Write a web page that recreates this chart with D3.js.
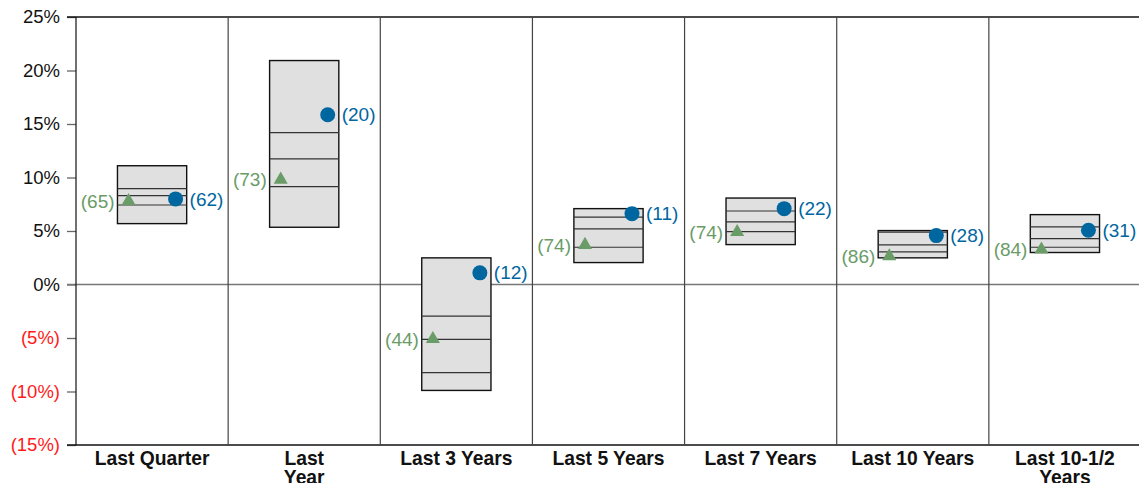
<!DOCTYPE html>
<html>
<head>
<meta charset="utf-8">
<script src="https://cdn.jsdelivr.net/npm/d3@7"></script>
<style>
  body { margin: 0; background: #fff; }
  svg { display: block; font-family: "Liberation Sans", Arial, sans-serif; }
</style>
</head>
<body>
<div id="chart"></div>
<script>
// periods (use \n for a manual line break)
var categories = ['Last Quarter', 'Last\nYear', 'Last 3 Years', 'Last 5 Years', 'Last 7 Years', 'Last 10 Years', 'Last 10-1/2\nYears'];

// peer group box: top, upper line, middle line, lower line, bottom (%)
var boxTop    = [11.1, 20.93,  2.49, 7.09, 8.08, 5.04, 6.53];
var boxUpper  = [8.96, 14.2,  -2.96, 6.3,  6.87, 4.9,  5.38];
var boxMid    = [8.3,  11.75, -5.13, 5.2,  5.85, 3.7,  4.29];
var boxLower  = [7.43,  9.14, -8.24, 3.48, 4.94, 3.05, 3.48];
var boxBottom = [5.69,  5.35, -9.9,  2.05, 3.73, 2.49, 2.99];

// portfolio (blue circle) and index (green triangle) returns, with their ranks
var circleVals  = [8.0, 15.86, 1.09, 6.62, 7.09, 4.57, 5.07];
var circleRanks = [62, 20, 12, 11, 22, 28, 31];
var triVals     = [7.8, 9.8, -5.1, 3.7, 4.9, 2.64, 3.27];
var triRanks    = [65, 73, 44, 74, 74, 86, 84];

var yTicks = [-15, -10, -5, 0, 5, 10, 15, 20, 25];

(function(){

var width = 1139, height = 483;
var plotLeft = 76, plotRight = 1141, plotTop = 17, plotBottom = 445;
var blue = '#00669f', green = '#6a9c68';

var svg = d3.select('#chart').append('svg')
	.attr('width', width)
	.attr('height', height);

var x = d3.scaleBand().domain(d3.range(categories.length)).range([plotLeft, plotRight]).padding(0);
var y = d3.scaleLinear().domain([-15, 25]).range([plotBottom, plotTop]);

// y axis ticks and labels
var yAxis = svg.append('g')
	.attr('transform', 'translate(' + plotLeft + ',0)')
	.call(d3.axisLeft(y).tickValues(yTicks).tickSize(9).tickPadding(7)
		.tickFormat(function(d) { return d < 0 ? '(' + (-d) + '%)' : d + '%'; }));
yAxis.select('.domain').remove();
yAxis.selectAll('.tick line').attr('stroke', '#666').attr('stroke-width', 1.3);
yAxis.selectAll('.tick text')
	.attr('font-size', 18.5)
	.attr('font-family', '"Liberation Sans", Arial, sans-serif')
	.attr('fill', function(d) { return d < 0 ? '#ff1a1a' : '#111'; });

// top and bottom frame lines
svg.append('line').attr('x1', plotLeft - 9).attr('x2', plotRight).attr('y1', y(25)).attr('y2', y(25))
	.attr('stroke', '#111').attr('stroke-width', 1.3);
svg.append('line').attr('x1', plotLeft - 9).attr('x2', plotRight).attr('y1', y(-15)).attr('y2', y(-15))
	.attr('stroke', '#111').attr('stroke-width', 1.3);

// zero line
svg.append('line').attr('x1', plotLeft - 9).attr('x2', plotRight).attr('y1', y(0)).attr('y2', y(0))
	.attr('stroke', '#777').attr('stroke-width', 1.5);

// column dividers
svg.selectAll('line.divider').data(d3.range(categories.length)).enter()
	.append('line')
	.attr('class', 'divider')
	.attr('x1', function(i) { return x(i); })
	.attr('x2', function(i) { return x(i); })
	.attr('y1', y(25))
	.attr('y2', y(-15))
	.attr('stroke', function(i) { return i == 0 ? '#111' : '#444'; })
	.attr('stroke-width', 1.2);

var boxW = x.bandwidth() * 0.455;
var off = 23.5;

var col = svg.selectAll('g.col').data(d3.range(categories.length)).enter()
	.append('g')
	.attr('class', 'col')
	.attr('transform', function(i) { return 'translate(' + (x(i) + x.bandwidth() / 2) + ',0)'; });

col.append('rect')
	.attr('x', -boxW / 2)
	.attr('width', boxW)
	.attr('y', function(i) { return y(boxTop[i]); })
	.attr('height', function(i) { return y(boxBottom[i]) - y(boxTop[i]); })
	.attr('fill', '#e0e0e0')
	.attr('stroke', '#111')
	.attr('stroke-width', 1.4);

[boxUpper, boxMid, boxLower].forEach(function(arr) {
	col.append('line')
		.attr('x1', -boxW / 2)
		.attr('x2', boxW / 2)
		.attr('y1', function(i) { return y(arr[i]); })
		.attr('y2', function(i) { return y(arr[i]); })
		.attr('stroke', '#333')
		.attr('stroke-width', 1.2);
});

// index triangle + rank
col.append('path')
	.attr('d', d3.symbol().type(d3.symbolTriangle).size(85))
	.attr('transform', function(i) { return 'translate(' + (-off) + ',' + y(triVals[i]) + ')'; })
	.attr('fill', green);
col.append('text')
	.attr('x', -off - 14)
	.attr('y', function(i) { return y(triVals[i]); })
	.attr('dy', '0.35em')
	.attr('text-anchor', 'end')
	.attr('font-size', 19)
	.attr('fill', green)
	.text(function(i) { return '(' + triRanks[i] + ')'; });

// portfolio circle + rank
col.append('circle')
	.attr('cx', off)
	.attr('cy', function(i) { return y(circleVals[i]); })
	.attr('r', 7.5)
	.attr('fill', blue);
col.append('text')
	.attr('x', off + 14)
	.attr('y', function(i) { return y(circleVals[i]); })
	.attr('dy', '0.35em')
	.attr('font-size', 19)
	.attr('fill', blue)
	.text(function(i) { return '(' + circleRanks[i] + ')'; });

// category labels
col.append('text')
	.attr('y', 465)
	.attr('text-anchor', 'middle')
	.attr('font-size', 19.3)
	.attr('font-weight', 'bold')
	.attr('fill', '#111')
	.each(function(i) {
		var t = d3.select(this);
		categories[i].split('\n').forEach(function(line, k) {
			t.append('tspan').attr('x', 0).attr('dy', k == 0 ? 0 : 19).text(line);
		});
	});

})();
</script>
</body>
</html>
